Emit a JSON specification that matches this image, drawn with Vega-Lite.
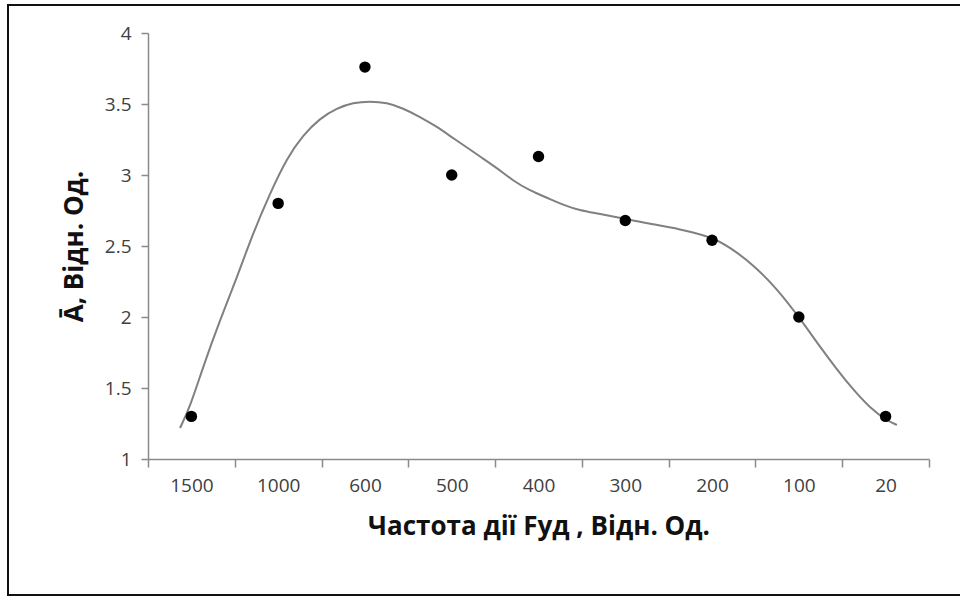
{
  "$schema": "https://vega.github.io/schema/vega-lite/v6.json",
  "width": 781,
  "height": 426,
  "autosize": "none",
  "padding": {"left": 148, "top": 33, "right": 31, "bottom": 138},
  "background": "white",
  "config": {
    "view": {"stroke": null},
    "font": "Open Sans",
    "axis": {
      "grid": false,
      "domainColor": "#8a8a8a",
      "domainWidth": 1.5,
      "tickColor": "#8a8a8a",
      "tickWidth": 1.5,
      "labelColor": "#404040",
      "labelFont": "Open Sans",
      "labelFontSize": 19,
      "titleFont": "Open Sans",
      "titleFontWeight": "bold",
      "titleFontSize": 26,
      "titleColor": "#111111"
    }
  },
  "datasets": {
    "points": [
      {"x": 1, "freq": "1500", "y": 1.3},
      {"x": 2, "freq": "1000", "y": 2.8},
      {"x": 3, "freq": "600", "y": 3.76},
      {"x": 4, "freq": "500", "y": 3.0},
      {"x": 5, "freq": "400", "y": 3.13},
      {"x": 6, "freq": "300", "y": 2.68},
      {"x": 7, "freq": "200", "y": 2.54},
      {"x": 8, "freq": "100", "y": 2.0},
      {"x": 9, "freq": "20", "y": 1.3}
    ],
    "trend": [
      {"x": 0.869, "y": 1.218},
      {"x": 0.984, "y": 1.366},
      {"x": 1.134, "y": 1.648},
      {"x": 1.33, "y": 1.979},
      {"x": 1.526, "y": 2.28},
      {"x": 1.71, "y": 2.59},
      {"x": 1.906, "y": 2.87},
      {"x": 2.102, "y": 3.12},
      {"x": 2.286, "y": 3.28},
      {"x": 2.482, "y": 3.4},
      {"x": 2.678, "y": 3.47},
      {"x": 2.862, "y": 3.51},
      {"x": 3.058, "y": 3.52},
      {"x": 3.254, "y": 3.51},
      {"x": 3.438, "y": 3.47},
      {"x": 3.634, "y": 3.41},
      {"x": 3.83, "y": 3.34},
      {"x": 4.015, "y": 3.26},
      {"x": 4.21, "y": 3.18},
      {"x": 4.326, "y": 3.13},
      {"x": 4.52, "y": 3.05},
      {"x": 4.706, "y": 2.96},
      {"x": 4.902, "y": 2.89},
      {"x": 5.098, "y": 2.84},
      {"x": 5.282, "y": 2.79},
      {"x": 5.478, "y": 2.75},
      {"x": 5.674, "y": 2.73},
      {"x": 6.008, "y": 2.69},
      {"x": 6.25, "y": 2.66},
      {"x": 6.63, "y": 2.62},
      {"x": 7.011, "y": 2.56},
      {"x": 7.207, "y": 2.49},
      {"x": 7.472, "y": 2.37},
      {"x": 7.748, "y": 2.2},
      {"x": 8.013, "y": 1.99},
      {"x": 8.244, "y": 1.79},
      {"x": 8.44, "y": 1.63},
      {"x": 8.624, "y": 1.49},
      {"x": 8.82, "y": 1.36},
      {"x": 9.016, "y": 1.27},
      {"x": 9.131, "y": 1.24}
    ],
    "frame": [{"k": 1}]
  },
  "layer": [
    {
      "data": {"name": "frame"},
      "mark": {"type": "rect", "fill": null, "stroke": "#111111", "strokeWidth": 2, "clip": false},
      "encoding": {
        "x": {"value": -140},
        "x2": {"value": 900},
        "y": {"value": -28},
        "y2": {"value": 562}
      }
    },
    {
      "data": {"name": "trend"},
      "mark": {"type": "line", "interpolate": "basis", "color": "#808080", "strokeWidth": 2},
      "encoding": {
        "x": {
          "field": "x",
          "type": "quantitative",
          "scale": {"domain": [0.5, 9.5], "nice": false, "zero": false},
          "axis": {
            "title": "Частота дії Fуд , Відн. Од.",
            "values": [0.5, 1, 1.5, 2, 2.5, 3, 3.5, 4, 4.5, 5, 5.5, 6, 6.5, 7, 7.5, 8, 8.5, 9, 9.5],
            "labelExpr": "datum.value % 1 ? '' : ['', '1500', '1000', '600', '500', '400', '300', '200', '100', '20'][datum.value]",
            "tickOpacity": {"condition": {"test": "datum.value % 1", "value": 1}, "value": 0},
            "labelOverlap": false,
            "labelFlush": false,
            "tickSize": 8,
            "labelPadding": 9,
            "titlePadding": 18
          }
        },
        "y": {
          "field": "y",
          "type": "quantitative",
          "scale": {"domain": [1, 4], "nice": false, "zero": false},
          "axis": {
            "title": "Ā, Відн. Од.",
            "values": [1, 1.5, 2, 2.5, 3, 3.5, 4],
            "format": ".1~f",
            "tickSize": 7,
            "labelPadding": 10,
            "titlePadding": 17
          }
        }
      }
    },
    {
      "data": {"name": "points"},
      "mark": {"type": "point", "filled": true, "shape": "circle", "size": 130, "color": "#000000", "opacity": 1},
      "encoding": {
        "x": {"field": "x", "type": "quantitative"},
        "y": {"field": "y", "type": "quantitative"}
      }
    }
  ]
}
